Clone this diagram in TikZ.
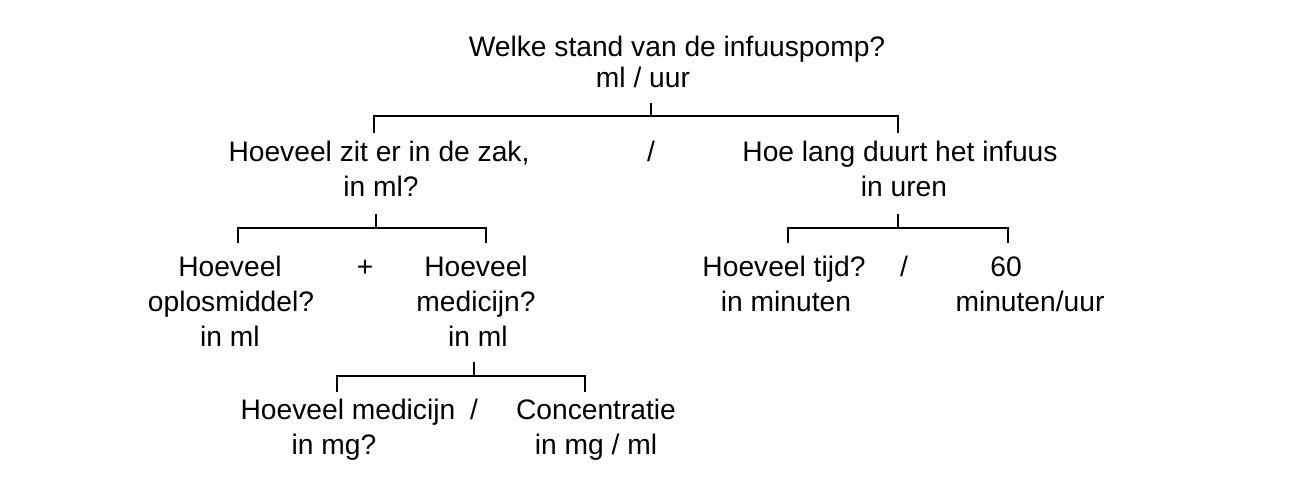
\documentclass[tikz,border=0pt]{standalone}
\usepackage{fontspec}
\setmainfont{Liberation Sans}
\begin{document}
\begin{tikzpicture}[x=0.5pt,y=-0.5pt,
  txt/.style={anchor=base,inner sep=0pt,font=\fontsize{14.1}{17}\selectfont},
  br/.style={line width=1pt,line cap=butt,line join=miter}]
\useasboundingbox (0,0) rectangle (1292,490);
% texts
\node[txt] (top1) at (677,57) {Welke stand van de infuuspomp?};
\node[txt] (top2) at (643,88) {ml / uur};
\node[txt] (zak1) at (379,162) {Hoeveel zit er in de zak,};
\node[txt] (zak2) at (381,197) {in ml?};
\node[txt] (div1) at (651,162) {/};
\node[txt] (duur1) at (900,162) {Hoe lang duurt het infuus};
\node[txt] (duur2) at (904,197) {in uren};
\node[txt] (opl1) at (230,277) {Hoeveel};
\node[txt] (opl2) at (231,312) {oplosmiddel?};
\node[txt] (opl3) at (230,347) {in ml};
\node[txt] (plus) at (365,277) {+};
\node[txt] (med1) at (476,277) {Hoeveel};
\node[txt] (med2) at (476,312) {medicijn?};
\node[txt] (med3) at (478,347) {in ml};
\node[txt] (tijd1) at (784,277) {Hoeveel tijd?};
\node[txt] (tijd2) at (786,312) {in minuten};
\node[txt] (div2) at (904,277) {/};
\node[txt] (sixty1) at (1006,277) {60};
\node[txt] (sixty2) at (1030,312) {minuten/uur};
\node[txt] (mg1) at (348,420) {Hoeveel medicijn};
\node[txt] (mg2) at (334,455) {in mg?};
\node[txt] (div3) at (474,420) {/};
\node[txt] (conc1) at (596,420) {Concentratie};
\node[txt] (conc2) at (596,455) {in mg / ml};
% bracket coordinates
\coordinate (t1) at (651,103); \coordinate (h1) at (651,116);
\coordinate (l1) at (374,133); \coordinate (r1) at (898,133);
\coordinate (t2) at (376,214); \coordinate (h2) at (376,228);
\coordinate (l2) at (238,243); \coordinate (r2) at (486,243);
\coordinate (t4) at (898,214); \coordinate (h4) at (898,228);
\coordinate (l4) at (788,243); \coordinate (r4) at (1008,243);
\coordinate (t3) at (474,362); \coordinate (h3) at (474,376);
\coordinate (l3) at (337,392); \coordinate (r3) at (585,392);
% brackets
\draw[br] (t1) -- (h1);
\draw[br] (l1) |- (h1) -| (r1);
\draw[br] (t2) -- (h2);
\draw[br] (l2) |- (h2) -| (r2);
\draw[br] (t4) -- (h4);
\draw[br] (l4) |- (h4) -| (r4);
\draw[br] (t3) -- (h3);
\draw[br] (l3) |- (h3) -| (r3);
\end{tikzpicture}
\end{document}
